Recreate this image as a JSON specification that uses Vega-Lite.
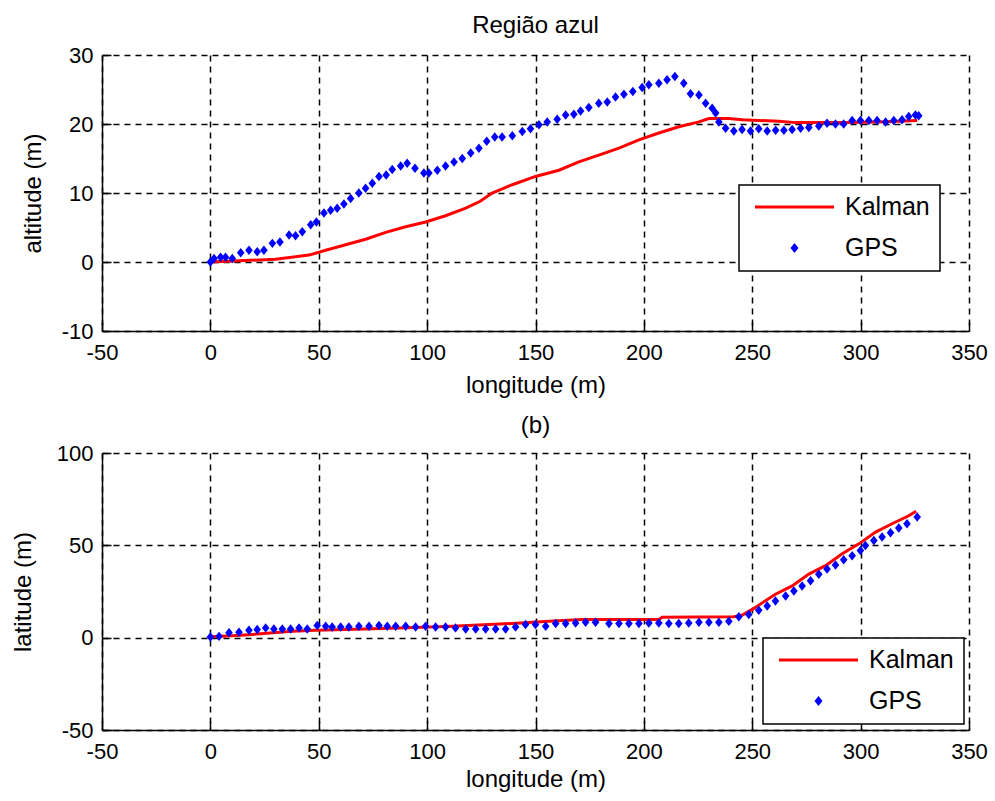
{
  "$schema": "https://vega.github.io/schema/vega-lite/v6.json",
  "padding": {"left": 11, "top": 14, "right": 4, "bottom": 4},
  "background": "white",
  "datasets": {
    "altGPS": [
      {"lon": 0, "alt": 0}, {"lon": 1.7, "alt": 0.5}, {"lon": 4.7, "alt": 0.7}, {"lon": 7.0, "alt": 0.7},
      {"lon": 10.1, "alt": 0.5}, {"lon": 14.0, "alt": 1.35}, {"lon": 17.8, "alt": 1.7}, {"lon": 21.6, "alt": 1.5},
      {"lon": 24.7, "alt": 1.7}, {"lon": 28.6, "alt": 2.7}, {"lon": 32.1, "alt": 2.9}, {"lon": 36.3, "alt": 3.9},
      {"lon": 39.3, "alt": 3.8}, {"lon": 42.4, "alt": 4.4}, {"lon": 46.3, "alt": 5.4}, {"lon": 48.9, "alt": 5.8},
      {"lon": 52.4, "alt": 7.1}, {"lon": 55.5, "alt": 7.5}, {"lon": 58.5, "alt": 7.8}, {"lon": 61.6, "alt": 8.4},
      {"lon": 64.7, "alt": 9.2}, {"lon": 68.5, "alt": 10.0}, {"lon": 71.6, "alt": 10.7}, {"lon": 74.7, "alt": 11.4},
      {"lon": 77.8, "alt": 12.4}, {"lon": 81.1, "alt": 12.6}, {"lon": 83.9, "alt": 13.4}, {"lon": 87.8, "alt": 13.9},
      {"lon": 90.8, "alt": 14.3}, {"lon": 94.4, "alt": 13.6}, {"lon": 98.5, "alt": 12.9}, {"lon": 100.8, "alt": 12.9},
      {"lon": 104.7, "alt": 13.3}, {"lon": 108.5, "alt": 13.9}, {"lon": 112.4, "alt": 14.5}, {"lon": 116.2, "alt": 15.0},
      {"lon": 120.1, "alt": 15.8}, {"lon": 123.9, "alt": 16.5}, {"lon": 127.5, "alt": 17.5}, {"lon": 131.2, "alt": 18.1},
      {"lon": 134.6, "alt": 18.1}, {"lon": 139.3, "alt": 18.3}, {"lon": 143.9, "alt": 18.9}, {"lon": 147.7, "alt": 19.3},
      {"lon": 151.6, "alt": 19.9}, {"lon": 155.4, "alt": 20.3}, {"lon": 160.0, "alt": 20.7}, {"lon": 163.9, "alt": 21.3},
      {"lon": 167.7, "alt": 21.4}, {"lon": 170.8, "alt": 21.9}, {"lon": 174.6, "alt": 22.4}, {"lon": 179.2, "alt": 23.0},
      {"lon": 183.1, "alt": 23.2}, {"lon": 186.9, "alt": 23.9}, {"lon": 190.8, "alt": 24.3}, {"lon": 194.9, "alt": 24.7},
      {"lon": 199.2, "alt": 25.3}, {"lon": 202.3, "alt": 25.7}, {"lon": 206.9, "alt": 25.9}, {"lon": 210.7, "alt": 26.4},
      {"lon": 214.3, "alt": 26.9}, {"lon": 218.4, "alt": 25.9}, {"lon": 221.5, "alt": 24.4}, {"lon": 225.4, "alt": 24.2},
      {"lon": 228.5, "alt": 23.0}, {"lon": 231.5, "alt": 22.3}, {"lon": 233.1, "alt": 21.6}, {"lon": 234.6, "alt": 20.3},
      {"lon": 237.7, "alt": 19.4}, {"lon": 241.5, "alt": 19.0}, {"lon": 245.3, "alt": 19.2}, {"lon": 249.2, "alt": 19.0},
      {"lon": 253.0, "alt": 19.3}, {"lon": 256.9, "alt": 19.0}, {"lon": 260.8, "alt": 19.1}, {"lon": 264.6, "alt": 19.1},
      {"lon": 268.4, "alt": 19.2}, {"lon": 272.3, "alt": 19.4}, {"lon": 276.1, "alt": 19.5}, {"lon": 280.7, "alt": 19.7},
      {"lon": 284.5, "alt": 20.1}, {"lon": 288.4, "alt": 20.0}, {"lon": 292.2, "alt": 20.0}, {"lon": 296.1, "alt": 20.5},
      {"lon": 299.9, "alt": 20.5}, {"lon": 303.8, "alt": 20.5}, {"lon": 307.6, "alt": 20.5}, {"lon": 311.5, "alt": 20.3},
      {"lon": 315.3, "alt": 20.5}, {"lon": 319.1, "alt": 20.6}, {"lon": 322.2, "alt": 21.1}, {"lon": 325.3, "alt": 21.3},
      {"lon": 326.8, "alt": 21.2}
    ],
    "altKalman": [
      {"lon": 0, "alt": 0}, {"lon": 30, "alt": 0.4}, {"lon": 45.5, "alt": 1.0}, {"lon": 53.2, "alt": 1.7},
      {"lon": 62.4, "alt": 2.5}, {"lon": 71.6, "alt": 3.3}, {"lon": 80.9, "alt": 4.3}, {"lon": 90.1, "alt": 5.1},
      {"lon": 99.3, "alt": 5.8}, {"lon": 108.5, "alt": 6.7}, {"lon": 117.8, "alt": 7.8}, {"lon": 124.5, "alt": 8.8},
      {"lon": 130.0, "alt": 10.0}, {"lon": 139.3, "alt": 11.2}, {"lon": 150.0, "alt": 12.4}, {"lon": 160.8, "alt": 13.3},
      {"lon": 170.0, "alt": 14.5}, {"lon": 179.2, "alt": 15.5}, {"lon": 188.5, "alt": 16.5}, {"lon": 197.7, "alt": 17.7},
      {"lon": 206.9, "alt": 18.7}, {"lon": 216.1, "alt": 19.6}, {"lon": 225.4, "alt": 20.3}, {"lon": 230.0, "alt": 20.8},
      {"lon": 239.2, "alt": 20.8}, {"lon": 245.3, "alt": 20.6}, {"lon": 262.3, "alt": 20.4}, {"lon": 270.0, "alt": 20.2},
      {"lon": 293.1, "alt": 20.2}, {"lon": 308.4, "alt": 20.3}, {"lon": 326.1, "alt": 20.5}
    ],
    "latGPS": [
      {"lon": 0, "lat": 0.4}, {"lon": 4.0, "lat": 0.7}, {"lon": 8.6, "lat": 2.6}, {"lon": 13.2, "lat": 2.9},
      {"lon": 17.8, "lat": 4.0}, {"lon": 21.6, "lat": 4.4}, {"lon": 25.5, "lat": 5.3}, {"lon": 29.3, "lat": 4.7},
      {"lon": 33.2, "lat": 4.7}, {"lon": 37.0, "lat": 4.7}, {"lon": 40.9, "lat": 5.3}, {"lon": 44.7, "lat": 4.7},
      {"lon": 49.3, "lat": 6.6}, {"lon": 53.2, "lat": 6.2}, {"lon": 56.2, "lat": 5.8}, {"lon": 60.1, "lat": 5.8},
      {"lon": 63.9, "lat": 5.8}, {"lon": 68.5, "lat": 6.2}, {"lon": 73.2, "lat": 6.2}, {"lon": 77.8, "lat": 6.6},
      {"lon": 81.6, "lat": 6.2}, {"lon": 85.5, "lat": 6.2}, {"lon": 90.1, "lat": 6.2}, {"lon": 94.7, "lat": 5.8},
      {"lon": 99.3, "lat": 6.2}, {"lon": 103.9, "lat": 5.8}, {"lon": 108.5, "lat": 5.8}, {"lon": 113.1, "lat": 5.3},
      {"lon": 117.8, "lat": 4.7}, {"lon": 122.4, "lat": 4.7}, {"lon": 127.0, "lat": 4.7}, {"lon": 131.6, "lat": 4.7},
      {"lon": 136.2, "lat": 4.7}, {"lon": 140.8, "lat": 5.8}, {"lon": 145.4, "lat": 7.1}, {"lon": 150.0, "lat": 7.1},
      {"lon": 154.7, "lat": 6.2}, {"lon": 159.3, "lat": 7.7}, {"lon": 163.9, "lat": 7.7}, {"lon": 168.5, "lat": 8.0},
      {"lon": 173.1, "lat": 8.4}, {"lon": 177.7, "lat": 8.4}, {"lon": 183.9, "lat": 7.7}, {"lon": 188.5, "lat": 7.7},
      {"lon": 193.1, "lat": 7.7}, {"lon": 197.7, "lat": 7.7}, {"lon": 202.3, "lat": 8.0}, {"lon": 206.9, "lat": 8.0},
      {"lon": 211.5, "lat": 7.7}, {"lon": 216.1, "lat": 7.7}, {"lon": 220.7, "lat": 8.0}, {"lon": 225.4, "lat": 8.4},
      {"lon": 230.0, "lat": 8.4}, {"lon": 234.6, "lat": 8.4}, {"lon": 239.2, "lat": 8.9}, {"lon": 243.8, "lat": 11.3},
      {"lon": 248.4, "lat": 12.6}, {"lon": 253.0, "lat": 14.9}, {"lon": 256.9, "lat": 17.1}, {"lon": 260.7, "lat": 19.8},
      {"lon": 265.4, "lat": 22.6}, {"lon": 269.2, "lat": 25.3}, {"lon": 273.0, "lat": 28.0}, {"lon": 276.9, "lat": 30.8},
      {"lon": 280.7, "lat": 34.4}, {"lon": 284.5, "lat": 37.2}, {"lon": 288.4, "lat": 39.3}, {"lon": 292.2, "lat": 42.2},
      {"lon": 296.1, "lat": 44.4}, {"lon": 299.9, "lat": 47.2}, {"lon": 302.2, "lat": 49.9}, {"lon": 306.1, "lat": 52.6},
      {"lon": 309.9, "lat": 54.5}, {"lon": 313.8, "lat": 56.8}, {"lon": 317.6, "lat": 59.4}, {"lon": 321.4, "lat": 61.7},
      {"lon": 326.1, "lat": 65.4}
    ],
    "latKalman": [
      {"lon": 0, "lat": 0.5}, {"lon": 10, "lat": 1.0}, {"lon": 17.8, "lat": 1.6}, {"lon": 37.8, "lat": 3.5},
      {"lon": 48.6, "lat": 4.0}, {"lon": 62.4, "lat": 4.4}, {"lon": 87.0, "lat": 5.3}, {"lon": 111.6, "lat": 6.2},
      {"lon": 139.3, "lat": 7.7}, {"lon": 156.2, "lat": 8.9}, {"lon": 171.6, "lat": 9.8}, {"lon": 207.0, "lat": 9.8},
      {"lon": 208.4, "lat": 11.0}, {"lon": 241.5, "lat": 11.3}, {"lon": 245.0, "lat": 12.0}, {"lon": 250.0, "lat": 15.3},
      {"lon": 260.7, "lat": 23.5}, {"lon": 268.4, "lat": 28.0}, {"lon": 276.1, "lat": 34.4}, {"lon": 283.8, "lat": 39.0},
      {"lon": 291.5, "lat": 45.4}, {"lon": 299.2, "lat": 50.8}, {"lon": 306.9, "lat": 57.2}, {"lon": 314.5, "lat": 61.7},
      {"lon": 322.2, "lat": 66.0}, {"lon": 325.6, "lat": 68.5}
    ]
  },
  "bounds": "flush",
  "spacing": 122,
  "resolve": {"scale": {"color": "independent"}, "legend": {"color": "independent"}},
  "vconcat": [
    {
      "title": {"text": "Região azul", "offset": 6},
      "width": 867,
      "height": 276,
      "layer": [
        {
          "data": {"name": "altKalman"},
          "mark": {"type": "line", "strokeWidth": 3, "interpolate": "linear"},
          "encoding": {
            "x": {"field": "lon", "type": "quantitative", "scale": {"domain": [-50, 350], "nice": false},
                  "axis": {"title": "longitude (m)", "values": [-50, 0, 50, 100, 150, 200, 250, 300, 350], "titlePadding": 10}},
            "y": {"field": "alt", "type": "quantitative", "scale": {"domain": [-10, 30], "nice": false},
                  "axis": {"title": "altitude (m)", "values": [-10, 0, 10, 20, 30], "titlePadding": 16}},
            "color": {
              "datum": "Kalman",
              "scale": {"domain": ["Kalman", "GPS"], "range": ["#ff0000", "#0000ff"]},
              "legend": {
                "orient": "none", "legendX": 637, "legendY": 130,
                "encode": {
                  "legend": {"update": {"strokeWidth": {"value": 1.5}}},
                  "symbols": {
                    "update": {
                      "shape": {"signal": "datum.value === 'Kalman' ? 'M-7.9,0H7.9' : 'M-0.8,0L0,-1L0.8,0L0,1Z'"},
                      "stroke": {"signal": "datum.value === 'Kalman' ? '#ff0000' : '#0000ff'"},
                      "fill": {"signal": "datum.value === 'Kalman' ? 'transparent' : '#0000ff'"},
                      "strokeWidth": {"signal": "datum.value === 'Kalman' ? 3 : 0"},
                      "size": {"value": 100},
                      "opacity": {"value": 1},
                      "fillOpacity": {"value": 1},
                      "strokeOpacity": {"value": 1}
                    }
                  }
                }
              }
            }
          }
        },
        {
          "data": {"name": "altGPS"},
          "mark": {"type": "point", "shape": "M-0.8,0L0,-1L0.8,0L0,1Z", "filled": true, "size": 90, "opacity": 1, "strokeWidth": 0},
          "encoding": {
            "x": {"field": "lon", "type": "quantitative"},
            "y": {"field": "alt", "type": "quantitative"},
            "color": {"datum": "GPS"}
          }
        }
      ]
    },
    {
      "title": {"text": "(b)", "offset": 4},
      "width": 867,
      "height": 277,
      "layer": [
        {
          "data": {"name": "latKalman"},
          "mark": {"type": "line", "strokeWidth": 3, "interpolate": "linear"},
          "encoding": {
            "x": {"field": "lon", "type": "quantitative", "scale": {"domain": [-50, 350], "nice": false},
                  "axis": {"title": "longitude (m)", "values": [-50, 0, 50, 100, 150, 200, 250, 300, 350], "titlePadding": 5}},
            "y": {"field": "lat", "type": "quantitative", "scale": {"domain": [-50, 100], "nice": false},
                  "axis": {"title": "latitude (m)", "values": [-50, 0, 50, 100], "titlePadding": 21}},
            "color": {
              "datum": "Kalman",
              "scale": {"domain": ["Kalman", "GPS"], "range": ["#ff0000", "#0000ff"]},
              "legend": {
                "orient": "none", "legendX": 661, "legendY": 185,
                "encode": {
                  "legend": {"update": {"strokeWidth": {"value": 1.5}}},
                  "symbols": {
                    "update": {
                      "shape": {"signal": "datum.value === 'Kalman' ? 'M-7.9,0H7.9' : 'M-0.8,0L0,-1L0.8,0L0,1Z'"},
                      "stroke": {"signal": "datum.value === 'Kalman' ? '#ff0000' : '#0000ff'"},
                      "fill": {"signal": "datum.value === 'Kalman' ? 'transparent' : '#0000ff'"},
                      "strokeWidth": {"signal": "datum.value === 'Kalman' ? 3 : 0"},
                      "size": {"value": 100},
                      "opacity": {"value": 1},
                      "fillOpacity": {"value": 1},
                      "strokeOpacity": {"value": 1}
                    }
                  }
                }
              }
            }
          }
        },
        {
          "data": {"name": "latGPS"},
          "mark": {"type": "point", "shape": "M-0.8,0L0,-1L0.8,0L0,1Z", "filled": true, "size": 90, "opacity": 1, "strokeWidth": 0},
          "encoding": {
            "x": {"field": "lon", "type": "quantitative"},
            "y": {"field": "lat", "type": "quantitative"},
            "color": {"datum": "GPS"}
          }
        }
      ]
    }
  ],
  "config": {
    "view": {"stroke": null},
    "font": "Liberation Sans",
    "title": {"font": "Liberation Sans", "fontSize": 24, "fontWeight": "normal", "color": "black", "anchor": "middle", "baseline": "alphabetic"},
    "axis": {
      "domainColor": "black", "domainWidth": 1.5,
      "tickColor": "black", "tickWidth": 1.5, "tickSize": -9,
      "gridColor": "black", "gridDash": [6, 5], "gridWidth": 1.5, "gridOpacity": 1,
      "labelFont": "Liberation Sans", "labelFontSize": 22, "labelColor": "black",
      "labelFlush": false, "labelOverlap": false,
      "labelExpr": "'' + datum.value",
      "titleFont": "Liberation Sans", "titleFontSize": 24, "titleFontWeight": "normal", "titleColor": "black"
    },
    "axisX": {"labelPadding": 20},
    "axisY": {"labelPadding": 18},
    "legend": {
      "title": null,
      "padding": 9.5,
      "rowPadding": 15,
      "symbolSize": 100,
      "symbolOffset": 33.5,
      "labelOffset": 38,
      "labelFont": "Liberation Sans",
      "labelFontSize": 25,
      "labelColor": "black",
      "strokeColor": "black",
      "fillColor": "white",
      "labelLimit": 0
    }
  }
}
